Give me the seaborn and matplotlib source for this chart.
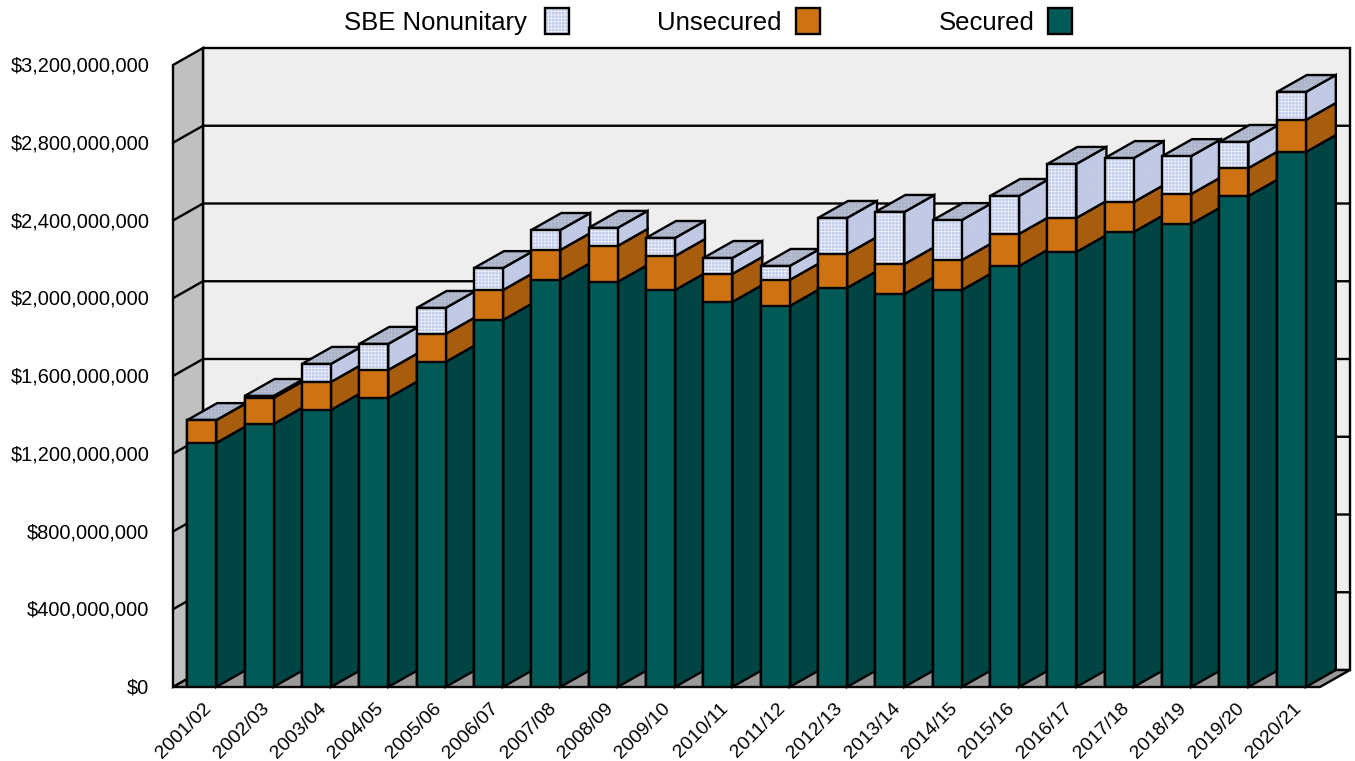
import matplotlib
matplotlib.use("Agg")
import matplotlib.pyplot as plt
from matplotlib.patches import Polygon, Patch
from matplotlib.legend_handler import HandlerTuple
from matplotlib.transforms import ScaledTranslation
import seaborn as sns
import numpy as np

years = ["2001/02", "2002/03", "2003/04", "2004/05", "2005/06", "2006/07", "2007/08",
         "2008/09", "2009/10", "2010/11", "2011/12", "2012/13", "2013/14", "2014/15",
         "2015/16", "2016/17", "2017/18", "2018/19", "2019/20", "2020/21"]
# millions of dollars
secured = [1255, 1353, 1425, 1487, 1672, 1888, 2094, 2084, 2042, 1981,
           1960, 2053, 2022, 2042, 2166, 2238, 2341, 2382, 2526, 2752]
unsecured = [118, 134, 144, 144, 144, 154, 154, 185, 175, 144,
             134, 175, 154, 154, 165, 175, 154, 154, 144, 165]
sbe = [0, 10, 93, 134, 134, 113, 103, 93, 93, 82,
       72, 185, 268, 206, 195, 278, 226, 195, 134, 144]
y_ticks = [0, 400, 800, 1200, 1600, 2000, 2400, 2800, 3200]

W, H = 1355, 761
sns.set_theme(style="white")
plt.rcParams["font.family"] = ["Liberation Sans", "DejaVu Sans"]
plt.rcParams["hatch.linewidth"] = 0.5

fig = plt.figure(figsize=(W / 100, H / 100), dpi=100, facecolor="white")
ax = fig.add_axes([173 / W, (H - 687) / H, 1147 / W, 622 / H])

BLACK = "black"
LW = 1.7
px_x = 1147 / 20       # pixels per category
px_y = 622 / 3200      # pixels per million
DX = 30 / px_x         # depth of the chart box in x units
DY = 17 / px_y         # depth of the chart box in y units
BAR_W = 0.505
HATCH = "+++++"
HATCH_FRONT = "#F2F4FC"

C_SEC = ("#005A56", "#004543")
C_UNS = ("#CF7312", "#A85C0E")
C_SBE = "#C2CCEC"
C_SBE_SIDE = "#BEC8E6"
C_SBE_TOP = "#A9B1C8"

sec = np.array(secured, float)
uns = sec + np.array(unsecured, float)
tot = uns + np.array(sbe, float)
n = len(years)
ymax = y_ticks[-1]


def poly(pts, face, z, hatch=None, hatch_col=None):
    if hatch:
        ax.add_patch(Polygon(pts, closed=True, facecolor=face, edgecolor=hatch_col, hatch=hatch,
                             linewidth=0, zorder=z, clip_on=False))
        ax.add_patch(Polygon(pts, closed=True, fill=False, edgecolor=BLACK, linewidth=LW,
                             zorder=z + 0.001, clip_on=False, joinstyle="miter"))
    else:
        ax.add_patch(Polygon(pts, closed=True, facecolor=face, edgecolor=BLACK, linewidth=LW,
                             zorder=z, clip_on=False, joinstyle="miter"))


# chart box: back wall, left wall, floor
x0, x1 = -0.5, n - 0.5
poly([(x0 + DX, DY), (x1 + DX, DY), (x1 + DX, ymax + DY), (x0 + DX, ymax + DY)], "#EEEEEE", 1)
poly([(x0, 0), (x0 + DX, DY), (x0 + DX, ymax + DY), (x0, ymax)], "#C0C0C0", 1.1)
poly([(x0, 0), (x1, 0), (x1 + DX, DY), (x0 + DX, DY)], "#999999", 1.2)
for t in y_ticks[1:-1]:
    ax.plot([x0, x0 + DX, x1 + DX], [t, t + DY, t + DY], color=BLACK, lw=LW, zorder=1.3,
            clip_on=False, solid_joinstyle="miter")

# side and top faces, left to right
for i in range(n):
    xr = i + BAR_W / 2
    xl = i - BAR_W / 2
    z = 2 + i * 0.01
    poly([(xr, 0), (xr + DX, DY), (xr + DX, sec[i] + DY), (xr, sec[i])], C_SEC[1], z)
    poly([(xr, sec[i]), (xr + DX, sec[i] + DY), (xr + DX, uns[i] + DY), (xr, uns[i])], C_UNS[1], z + 0.002)
    poly([(xr, uns[i]), (xr + DX, uns[i] + DY), (xr + DX, tot[i] + DY), (xr, tot[i])], C_SBE_SIDE, z + 0.004,
         hatch=HATCH, hatch_col="#C4CCE4")
    poly([(xl, tot[i]), (xr, tot[i]), (xr + DX, tot[i] + DY), (xl + DX, tot[i] + DY)], C_SBE_TOP, z + 0.006,
         hatch=HATCH, hatch_col="#BCC2D4")

# front faces: cumulative bars, tallest first
sns.barplot(x=years, y=tot, ax=ax, color=C_SBE, saturation=1, width=BAR_W, linewidth=0,
            edgecolor=HATCH_FRONT, hatch=HATCH, zorder=5)
sns.barplot(x=years, y=tot, ax=ax, color=BLACK, saturation=1, width=BAR_W, fill=False,
            linewidth=LW, zorder=5.1)
sns.barplot(x=years, y=uns, ax=ax, color=C_UNS[0], saturation=1, width=BAR_W,
            edgecolor=BLACK, linewidth=LW, zorder=5.2)
sns.barplot(x=years, y=sec, ax=ax, color=C_SEC[0], saturation=1, width=BAR_W,
            edgecolor=BLACK, linewidth=LW, zorder=5.3)

ax.set_xlim(x0, x1)
ax.set_ylim(0, ymax)
ax.patch.set_visible(False)
for s in ax.spines.values():
    s.set_visible(False)

ax.set_yticks(y_ticks)
ax.set_yticklabels(["$0" if t == 0 else f"${t * 1000000:,}" for t in y_ticks], fontsize=14.4, color=BLACK)
ax.tick_params(axis="y", length=0, pad=17)
up = ScaledTranslation(0, 0.7 / 72, fig.dpi_scale_trans)
for lab in ax.get_yticklabels():
    lab.set_transform(lab.get_transform() + up)
ax.set_xticks(range(n))
ax.set_xticklabels(years, rotation=45, ha="right", rotation_mode="anchor", fontsize=14, color=BLACK)
ax.tick_params(axis="x", length=0, pad=9)
shift = ScaledTranslation(1.5 / 100, 0, fig.dpi_scale_trans)
for lab in ax.get_xticklabels():
    lab.set_transform(lab.get_transform() + shift)
ax.set_xlabel("")
ax.set_ylabel("")

# legend: one label + swatch per series, at the reference's spacing
entries = [("SBE Nonunitary", C_SBE, HATCH_FRONT, HATCH, 569, 0.70),
           ("Unsecured", C_UNS[0], C_UNS[0], None, 820, 0.55),
           ("Secured", C_SEC[0], C_SEC[0], None, 1072, 0.52)]
for label, col, hcol, hat, rgt, gap in entries:
    fill = Patch(facecolor=col, edgecolor=hcol, linewidth=0, hatch=hat)
    outline = Patch(fill=False, edgecolor=BLACK, linewidth=LW)
    fig.legend(handles=[(fill, outline)], labels=[label],
               handler_map={tuple: HandlerTuple(ndivide=1, pad=0)},
               loc="center right", bbox_to_anchor=(rgt / W, 1 - 21.7 / H),
               frameon=False, markerfirst=False, fontsize=18.5, handlelength=0.95,
               handleheight=1.15, handletextpad=gap, borderpad=0, borderaxespad=0,
               labelcolor=BLACK)

fig.savefig("out.png", dpi=100, facecolor="white")
